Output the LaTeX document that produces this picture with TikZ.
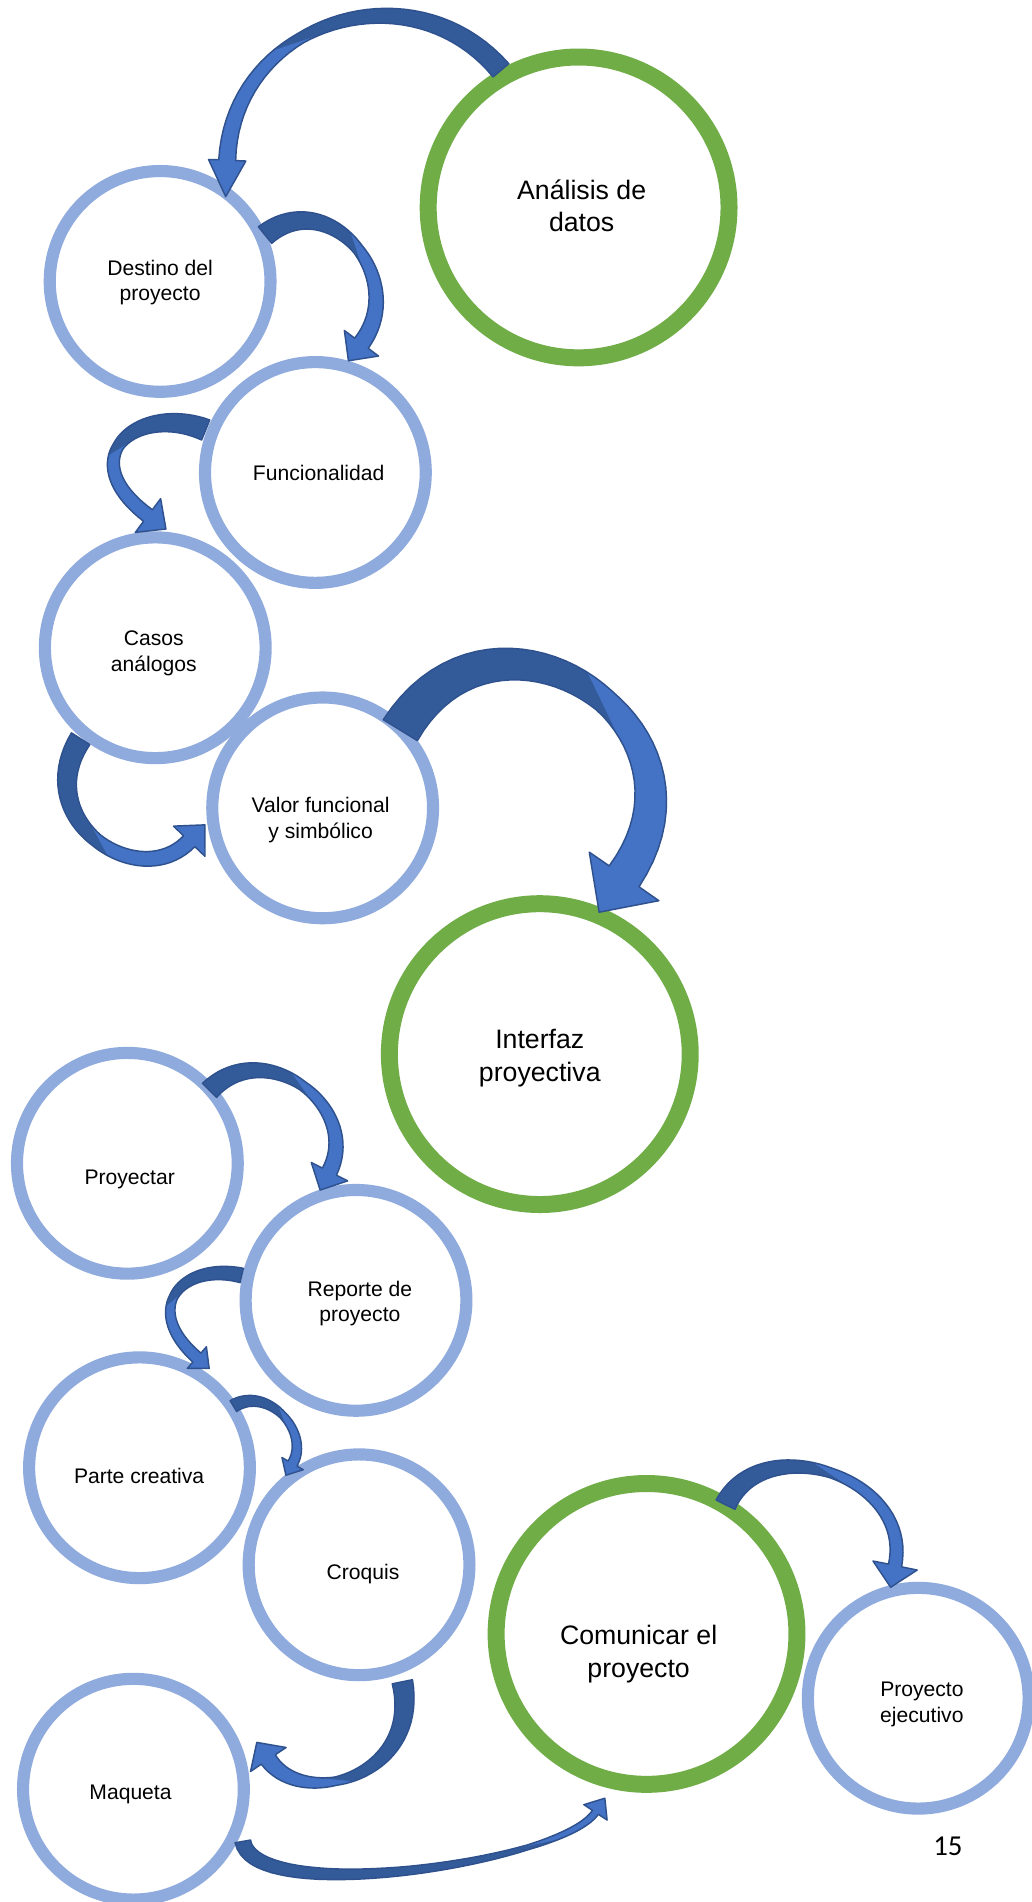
\documentclass[tikz,border=0pt]{standalone}
\usepackage{fontspec}
\setmainfont{Liberation Sans}
\newfontfamily\pgnumfont{Carlito}
\definecolor{ringblue}{RGB}{143,170,220}
\definecolor{ringgreen}{RGB}{112,173,71}
\definecolor{arlight}{RGB}{68,114,196}
\definecolor{ardark}{RGB}{51,90,153}
\definecolor{arline}{RGB}{47,82,143}
\def\caparse#1,#2;#3#4{\pgfmathsetmacro#3{(#1)/100}\pgfmathsetmacro#4{(#2)/100}}
\def\caparsew#1,#2,#3,#4;{\pgfmathsetmacro\caWa{(#1)/100}\pgfmathsetmacro\caWm{(#2)/100}\pgfmathsetmacro\caWb{(#3)/100}\pgfmathsetmacro\caF{#4}}
\def\caparseh#1,#2;{\pgfmathsetmacro\caHw{(#1)/100}\pgfmathsetmacro\caHl{(#2)/100}}
\newcommand\carrow[6]{%
  \caparse#1;\caXa\caYa
  \caparse#2;\caXb\caYb
  \caparse#3;\caXc\caYc
  \caparse#4;\caXd\caYd
  \caparsew#5;%
  \caparseh#6;%
  \pgfmathsetmacro\caTx{\caXd-(\caXc)}%
  \pgfmathsetmacro\caTy{\caYd-(\caYc)}%
  \pgfmathsetmacro\caTl{veclen(\caTx,\caTy)}%
  \pgfmathsetmacro\caUx{\caTx/\caTl}%
  \pgfmathsetmacro\caUy{\caTy/\caTl}%
  \pgfmathsetmacro\caFo{\caF+0.08}%
  \pgfmathsetmacro\caFi{\caF-0.08}%
  \begin{scope}[x=50pt,y=-50pt]
    \path[save path=\caPath, fill=arlight]
      plot[domain=0:1,samples=41,variable=\x] ({px(\x,1)},{py(\x,1)})
      -- ({\caXd-\caHw*(\caUy)},{\caYd+\caHw*(\caUx)})
      -- ({\caXd+\caHl*(\caUx)},{\caYd+\caHl*(\caUy)})
      -- ({\caXd+\caHw*(\caUy)},{\caYd-\caHw*(\caUx)})
      -- plot[domain=0:1,samples=41,variable=\x] ({px(1-\x,-1)},{py(1-\x,-1)})
      -- cycle;
    \fill[ardark]
      plot[domain=0:\caFo,samples=25,variable=\x] ({px(\x,1)},{py(\x,1)})
      -- plot[domain=0:\caFi,samples=25,variable=\x] ({px(\caFi-\x,-1)},{py(\caFi-\x,-1)})
      -- cycle;
    \draw[use path=\caPath, draw=arline, line width=0.6pt, line join=round];
  \end{scope}}
\tikzset{
  bluering/.style={circle, draw=ringblue, line width=5pt, minimum size=91pt, inner sep=0pt},
  greenring/.style={circle, draw=ringgreen, line width=7pt, minimum size=124pt, inner sep=0pt},
  smalltxt/.style={align=center, font=\fontsize{8.7}{10.5}\selectfont, inner sep=0pt},
  bigtxt/.style={align=center, font=\fontsize{11}{13.5}\selectfont, inner sep=0pt},
}
\begin{document}
\begin{tikzpicture}[x=0.5pt,y=-0.5pt,
  declare function={
    cabz(\x,\pa,\pb,\pc,\pd)=(1-(\x))*(1-(\x))*(1-(\x))*(\pa)+3*(1-(\x))*(1-(\x))*(\x)*(\pb)+3*(1-(\x))*(\x)*(\x)*(\pc)+(\x)*(\x)*(\x)*(\pd);
    cadz(\x,\pa,\pb,\pc,\pd)=3*(1-(\x))*(1-(\x))*((\pb)-(\pa))+6*(1-(\x))*(\x)*((\pc)-(\pb))+3*(\x)*(\x)*((\pd)-(\pc));
    caw(\x)=\caWm+max(0,(\caF-(\x))/\caF)*(\caWa-\caWm)+max(0,((\x)-\caF)/(1-\caF))*(\caWb-\caWm);
    px(\x,\y)=cabz(\x,\caXa,\caXb,\caXc,\caXd)-(\y)*0.5*caw(\x)*cadz(\x,\caYa,\caYb,\caYc,\caYd)/veclen(cadz(\x,\caXa,\caXb,\caXc,\caXd),cadz(\x,\caYa,\caYb,\caYc,\caYd));
    py(\x,\y)=cabz(\x,\caYa,\caYb,\caYc,\caYd)+(\y)*0.5*caw(\x)*cadz(\x,\caXa,\caXb,\caXc,\caXd)/veclen(cadz(\x,\caXa,\caXb,\caXc,\caXd),cadz(\x,\caYa,\caYb,\caYc,\caYd));
  }]
\fill[white] (0,0) rectangle (850,1568);
\useasboundingbox (0,0) rectangle (850,1568);

% circles
\node[greenring] (analisis) at (477,171) {};
\node[bluering] (destino) at (132,232) {};
\node[bluering] (funcionalidad) at (260,389.5) {};
\node[bluering] (casos) at (128,534) {};
\node[bluering] (valor) at (266,666) {};
\node[greenring] (interfaz) at (445,869) {};
\node[bluering] (proyectar) at (105,959) {};
\node[bluering] (reporte) at (293.5,1072) {};
\node[bluering] (parte) at (115,1210) {};
\node[bluering] (croquis) at (296,1290) {};
\node[greenring] (comunicar) at (533,1347) {};
\node[bluering] (ejecutivo) at (757,1400) {};
\node[bluering] (maqueta) at (110,1475) {};

% labels
\node[bigtxt] (analisis-t) at (479.5,169.6) {Análisis de\\datos};
\node[smalltxt] (destino-t) at (132,233) {Destino del\\proyecto};
\node[smalltxt] (funcionalidad-t) at (262.7,389.7) {Funcionalidad};
\node[smalltxt] (casos-t) at (126.8,538.5) {Casos\\análogos};
\node[smalltxt] (valor-t) at (264.3,676) {Valor funcional\\y simbólico};
\node[bigtxt] (interfaz-t) at (445,872) {Interfaz\\proyectiva};
\node[smalltxt] (proyectar-t) at (106.9,972.5) {Proyectar};
\node[smalltxt] (reporte-t) at (296.7,1074.5) {Reporte de\\proyecto};
\node[smalltxt] (parte-t) at (114.7,1216.5) {Parte creativa};
\node[smalltxt] (croquis-t) at (299.3,1298) {Croquis};
\node[bigtxt] (comunicar-t) at (526.5,1363.7) {Comunicar el\\proyecto};
\node[smalltxt] (ejecutivo-t) at (760,1405) {Proyecto\\ejecutivo};
\node[smalltxt] (maqueta-t) at (107.6,1479) {Maqueta};
\node[anchor=base, inner sep=0pt, font=\pgnumfont\fontsize{11.9}{14}\selectfont] (pagenum) at (781.5,1530) {15};

% curved block arrows
\carrow{413,58}{339,-29}{192,18}{187.3,132.1}{17,9,14,0.6}{15.4,30}
\carrow{218.5,193.8}{270.5,151.8}{338,229.4}{298,283}{17.6,9,14,0.52}{17.6,18}
\carrow{169.6,354.5}{114,332}{58,377}{122,425}{17.9,9,12,0.55}{17.4,18.5}
\carrow{66.5,609}{23.7,676.6}{114.6,736.7}{156,693.5}{18,11,13,0.5}{18,18.7}
\carrow{330,602}{409,472.7}{601.2,598.2}{514.5,722.5}{33,20,30,0.56}{35,36}
\carrow{172.7,898.9}{218.2,852.7}{298.6,912.5}{271.6,965.9}{16.5,8,13,0.5}{16.8,17}
\carrow{199.3,1051.5}{150.5,1040.35}{115.8,1078.3}{162.3,1119.2}{12.1,7,10,0.55}{11.9,13.5}
\carrow{192.4,1159.2}{220.6,1142}{256.2,1180.5}{241.2,1206.6}{10.5,6,8.5,0.5}{10.1,11}
\carrow{331.7,1386.4}{347.7,1464.8}{249.2,1492}{221.2,1450.5}{17,7,14,0.6}{17.7,17}
\carrow{200.2,1518}{209.6,1572.2}{463.4,1535.6}{490.9,1494.1}{13,4,6,0.75}{11.5,14}
\carrow{598.1,1240.5}{628.9,1177.5}{752.9,1217.1}{737.9,1290.6}{17.4,8,11,0.5}{18.6,18.3}
\end{tikzpicture}
\end{document}
